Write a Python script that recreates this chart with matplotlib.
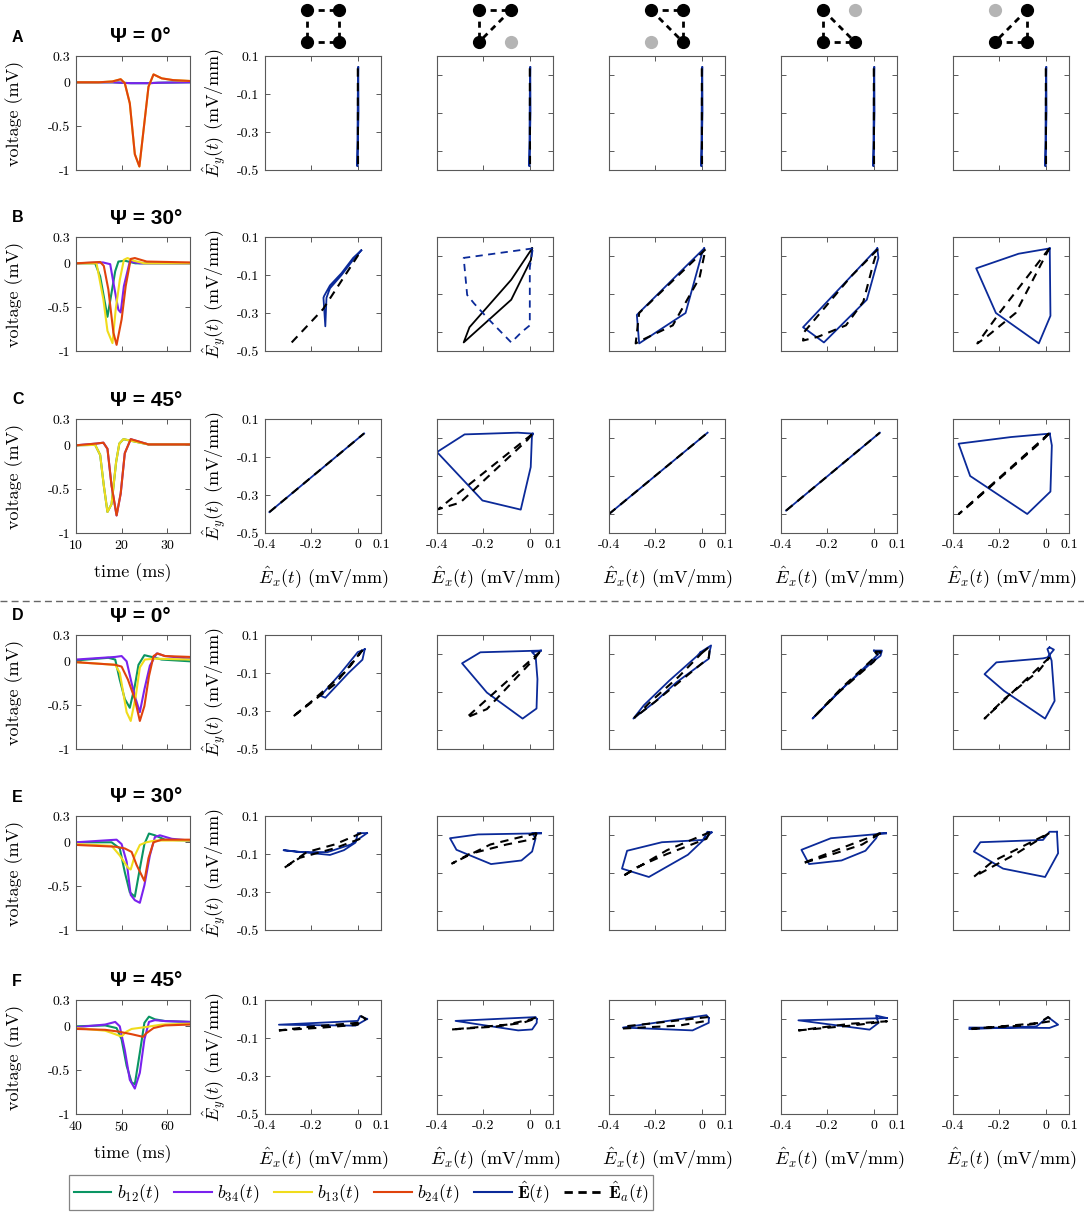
import matplotlib
matplotlib.use("Agg")
import matplotlib.pyplot as plt
from matplotlib.lines import Line2D

plt.rcParams['font.family'] = ['cmr10', 'DejaVu Sans']
plt.rcParams['mathtext.fontset'] = 'cm'
plt.rcParams['axes.unicode_minus'] = False
plt.rcParams['axes.formatter.use_mathtext'] = True

W, H = 1084, 1214

# ---------------- colours ----------------
C_B12 = '#0a9563'
C_B34 = '#7a22ee'
C_B13 = '#f0dc1c'
C_B24 = '#e0430c'
C_E = '#0b2a99'
C_EA = 'black'

# ---------------- data: bipolar traces (time ms, voltage mV) ----------------
row_titles = ['Ψ = 0°', 'Ψ = 30°', 'Ψ = 45°', 'Ψ = 0°', 'Ψ = 30°', 'Ψ = 45°']
row_letters = ['A', 'B', 'C', 'D', 'E', 'F']

# Row A
A_t_flat = [10, 18, 20, 22, 24, 26, 28, 35]
A_v_flat = [0.0, 0.0, -0.005, -0.01, -0.01, -0.01, -0.005, 0.0]
A_t_dip = [10, 15, 18, 19.8, 20.7, 21.8, 22.9, 23.9, 25.9, 27.0, 28.8, 31.3, 35]
A_v_dip = [0.0, 0.0, 0.01, 0.035, -0.01, -0.24, -0.82, -0.96, -0.05, 0.09, 0.045, 0.025, 0.015]
# Row B
B_t_b12 = [10, 14.2, 15.3, 16.9, 18.6, 19.3, 20.7, 23, 35]
B_v_b12 = [0, 0, -0.15, -0.61, -0.09, 0.02, 0.03, 0.0, 0.0]
B_t_b34 = [10, 15.9, 17.5, 18.2, 19.0, 19.3, 19.8, 20.5, 21.8, 24, 35]
B_v_b34 = [0, 0.01, -0.01, -0.22, -0.45, -0.53, -0.56, -0.26, 0.02, 0.0, 0.0]
B_t_b13 = [10, 14.5, 16.0, 16.9, 18.0, 18.7, 19.6, 20.5, 21.3, 22.6, 25, 35]
B_v_b13 = [0, 0, -0.41, -0.77, -0.91, -0.53, -0.19, 0.04, 0.06, 0.03, 0.0, 0.0]
B_t_b24 = [10, 15.3, 16.1, 17.1, 18.2, 18.9, 20.0, 20.9, 22.0, 22.9, 25.5, 35]
B_v_b24 = [0, 0.015, -0.03, -0.3, -0.79, -0.93, -0.64, -0.26, 0.05, 0.06, 0.02, 0.01]
# Row C
C_t_a = [10, 14.2, 15.3, 16.1, 16.9, 17.8, 18.8, 19.5, 20.4, 21.3, 25.9, 35]
C_v_a = [0, 0.005, -0.11, -0.46, -0.76, -0.67, -0.19, 0.02, 0.07, 0.06, 0.01, 0.01]
C_t_b = [10, 14.5, 16.0, 16.9, 17.8, 18.9, 19.8, 20.7, 22.0, 23.3, 25.9, 35]
C_v_b = [0, 0.02, 0.03, -0.04, -0.46, -0.8, -0.55, -0.09, 0.07, 0.05, 0.01, 0.01]
# Row D
D_t_b12 = [40, 47.1, 48.6, 49.6, 50.7, 51.8, 52.9, 53.7, 55.0, 56.6, 58.8, 65]
D_v_b12 = [0.01, 0.04, 0.02, -0.21, -0.43, -0.53, -0.28, -0.04, 0.07, 0.05, 0.02, 0.0]
D_t_b34 = [40, 48.6, 50.0, 51.1, 52.2, 53.1, 54.0, 55.0, 56.2, 57.7, 59.5, 65]
D_v_b34 = [0.02, 0.05, 0.06, 0.0, -0.25, -0.43, -0.58, -0.32, -0.05, 0.09, 0.06, 0.03]
D_t_b13 = [40, 48.6, 49.6, 51.1, 52.0, 53.1, 54.0, 55.1, 57.3, 65]
D_v_b13 = [-0.01, -0.04, -0.13, -0.58, -0.68, -0.4, -0.07, 0.02, 0.03, 0.02]
D_t_b24 = [40, 48.6, 50.0, 51.4, 52.9, 54.0, 55.0, 56.0, 57.0, 57.9, 59.5, 65]
D_v_b24 = [-0.01, -0.04, -0.06, -0.21, -0.43, -0.68, -0.51, -0.17, 0.06, 0.09, 0.06, 0.05]
# Row E
E_t_b12 = [40, 47.8, 49.6, 50.7, 51.8, 52.9, 54.0, 55.0, 56.0, 57.3, 59.5, 65]
E_v_b12 = [0, 0, -0.07, -0.34, -0.57, -0.62, -0.3, -0.02, 0.1, 0.08, 0.03, 0.02]
E_t_b34 = [40, 48.9, 50.0, 51.1, 52.0, 52.9, 54.0, 55.0, 56.2, 57.3, 58.4, 61, 65]
E_v_b34 = [0, 0.03, -0.02, -0.22, -0.6, -0.66, -0.69, -0.49, -0.15, 0.06, 0.08, 0.04, 0.02]
E_t_b13 = [40, 47.8, 49.6, 51.4, 52.0, 52.9, 54.0, 55.4, 57.3, 65]
E_v_b13 = [-0.02, -0.04, -0.15, -0.29, -0.31, -0.15, -0.03, 0.0, 0.02, 0.02]
E_t_b24 = [40, 48.6, 50.7, 52.2, 53.3, 55.0, 55.9, 57.0, 58.8, 65]
E_v_b24 = [-0.03, -0.05, -0.07, -0.11, -0.26, -0.44, -0.18, 0.0, 0.03, 0.03]
# Row F
F_t_b12 = [40, 46.4, 48.9, 50, 51.1, 52.2, 52.9, 54, 55, 56, 57.3, 59.5, 65]
F_v_b12 = [0, 0.01, -0.02, -0.15, -0.45, -0.64, -0.66, -0.3, 0.04, 0.11, 0.08, 0.06, 0.05]
F_t_b34 = [40, 46.4, 48.6, 49.6, 50.7, 51.8, 52.9, 54, 55, 56, 57.3, 59.5, 65]
F_v_b34 = [-0.01, 0.02, 0.05, 0.0, -0.27, -0.61, -0.71, -0.53, -0.15, 0.05, 0.07, 0.06, 0.05]
F_t_b13 = [40, 46.4, 48.6, 49.6, 50.1, 51.1, 52.2, 55.1, 58.8, 65]
F_v_b13 = [-0.02, -0.05, -0.09, -0.11, -0.11, -0.06, -0.03, -0.01, 0.02, 0.03]
F_t_b24 = [40, 46.4, 49.3, 52.2, 54.7, 55.4, 57, 59.5, 65]
F_v_b24 = [-0.03, -0.04, -0.06, -0.09, -0.12, -0.08, -0.02, 0.01, 0.02]

traces = [
    [(A_t_flat, A_v_flat), (A_t_flat, A_v_flat), (A_t_dip, A_v_dip), (A_t_dip, A_v_dip)],
    [(B_t_b12, B_v_b12), (B_t_b34, B_v_b34), (B_t_b13, B_v_b13), (B_t_b24, B_v_b24)],
    [(C_t_a, C_v_a), (C_t_b, C_v_b), (C_t_a, C_v_a), (C_t_b, C_v_b)],
    [(D_t_b12, D_v_b12), (D_t_b34, D_v_b34), (D_t_b13, D_v_b13), (D_t_b24, D_v_b24)],
    [(E_t_b12, E_v_b12), (E_t_b34, E_v_b34), (E_t_b13, E_v_b13), (E_t_b24, E_v_b24)],
    [(F_t_b12, F_v_b12), (F_t_b34, F_v_b34), (F_t_b13, F_v_b13), (F_t_b24, F_v_b24)],
]
trace_colors = [C_B12, C_B34, C_B13, C_B24]

time_ranges = [(10, 35), (10, 35), (10, 35), (40, 65), (40, 65), (40, 65)]
time_ticks = [[10, 20, 30]] * 3 + [[40, 50, 60]] * 3
volt_ticks = [0.3, 0, -0.5, -1]

# ---------------- data: loops (Ex, Ey) for E (solid) and Ea (dashed) ----------------
A_E = ([0.002, 0.0, -0.002, 0.003, 0.002], [0.04, -0.1, -0.48, -0.2, 0.04])
A_Ea = ([0.0, 0.001], [0.035, -0.475])

B1_E = ([0.015, -0.02, -0.07, -0.12, -0.145, -0.148, -0.14, -0.135, -0.12, -0.07, -0.02, 0.015],
        [0.03, -0.01, -0.09, -0.155, -0.21, -0.22, -0.37, -0.22, -0.17, -0.10, -0.02, 0.03])
B1_Ea = ([-0.285, -0.15, 0.01], [-0.455, -0.28, 0.02])
B2_E = ([0.01, -0.08, -0.26, -0.285, -0.08, 0.005, 0.01],
        [0.04, -0.125, -0.375, -0.455, -0.23, -0.02, 0.04])
B2_Ea = ([0.013, -0.285, -0.27, -0.24, -0.18, -0.08, -0.035, 0.0, 0.0, 0.013],
         [0.04, -0.01, -0.205, -0.25, -0.33, -0.455, -0.40, -0.365, -0.06, 0.04])
B3_E = ([0.01, -0.065, -0.28, -0.27, -0.07, 0.0, 0.01],
        [0.04, -0.05, -0.31, -0.46, -0.30, 0.01, 0.04])
B3_Ea = ([0.016, -0.27, -0.285, -0.245, -0.125, -0.01, 0.016],
         [0.035, -0.30, -0.46, -0.435, -0.365, -0.115, 0.035])
B4_E = ([0.015, 0.02, -0.03, -0.215, -0.305, 0.015],
        [0.04, -0.01, -0.23, -0.455, -0.375, 0.04])
B4_Ea = ([0.017, -0.1, -0.3, -0.305, -0.24, -0.12, -0.045, 0.0, 0.017],
         [0.035, -0.11, -0.40, -0.445, -0.425, -0.365, -0.24, -0.03, 0.035])
B5_E = ([0.017, -0.117, -0.30, -0.215, -0.03, 0.02, 0.017],
        [0.04, 0.012, -0.065, -0.30, -0.46, -0.315, 0.04])
B5_Ea = ([0.015, -0.2, -0.295, -0.26, -0.13, 0.015],
         [0.04, -0.3, -0.46, -0.43, -0.3, 0.04])

C1_E = ([-0.381, 0.027], [-0.39, 0.024])
C1_Ea = ([-0.381, 0.027], [-0.39, 0.024])
C2_E = ([0.013, -0.052, -0.281, -0.4, -0.204, -0.039, 0.004, 0.009, 0.013],
        [0.023, 0.028, 0.019, -0.074, -0.329, -0.377, -0.153, 0.005, 0.023])
C2_Ea = ([0.01, -0.395, -0.30, -0.01, 0.01], [0.02, -0.375, -0.34, -0.01, 0.02])
C3_E = ([-0.4, 0.025], [-0.4, 0.028])
C3_Ea = ([-0.4, 0.025], [-0.4, 0.028])
C4_E = ([-0.378, 0.026], [-0.382, 0.028])
C4_Ea = ([-0.378, 0.026], [-0.382, 0.028])
C5_E = ([0.017, -0.15, -0.376, -0.326, -0.08, 0.02, 0.026, 0.017],
        [0.023, 0.005, -0.03, -0.2, -0.4, -0.282, -0.039, 0.023])
C5_Ea = ([0.015, -0.375, -0.335, -0.02, 0.015], [0.025, -0.40, -0.36, -0.02, 0.025])

D1_E = ([0.03, 0.0, -0.08, -0.16, -0.14, -0.04, 0.02, 0.03],
        [0.025, 0.01, -0.11, -0.22, -0.23, -0.1, -0.03, 0.025])
D1_Ea = ([0.02, -0.1, -0.285, -0.2, -0.05, 0.02], [0.02, -0.16, -0.335, -0.25, -0.09, 0.02])
D2_E = ([0.048, -0.213, -0.292, -0.185, -0.031, 0.029, 0.033, 0.025, 0.01, 0.048],
        [0.018, 0.009, -0.049, -0.203, -0.34, -0.287, -0.132, -0.009, 0.009, 0.018])
D2_Ea = ([0.044, -0.273, -0.185, 0.025, 0.044], [0.012, -0.335, -0.29, -0.018, 0.012])
D3_E = ([-0.005, 0.04, 0.035, 0.03, -0.01, -0.11, -0.2, -0.295, -0.25, -0.14, -0.02, -0.005],
        [0.01, 0.045, 0.02, -0.025, -0.06, -0.15, -0.25, -0.34, -0.27, -0.14, -0.01, 0.01])
D3_Ea = ([0.0, 0.035, 0.03, -0.05, -0.2, -0.29, -0.22, -0.1, 0.0],
         [0.005, 0.04, -0.02, -0.1, -0.25, -0.335, -0.25, -0.12, 0.005])
D4_E = ([0.001, 0.035, 0.029, -0.008, -0.148, -0.264, -0.13, 0.02, 0.001],
        [0.018, 0.018, -0.009, -0.044, -0.194, -0.34, -0.176, 0.0, 0.018])
D4_Ea = ([0.005, 0.03, 0.0, -0.15, -0.26, -0.14, 0.015, 0.005],
         [0.012, 0.012, -0.04, -0.2, -0.335, -0.18, -0.005, 0.012])
D5_E = ([0.016, 0.035, 0.007, -0.012, -0.213, -0.264, -0.18, -0.003, 0.038, 0.025, 0.007, 0.016],
        [0.035, 0.023, -0.018, -0.023, -0.044, -0.106, -0.194, -0.34, -0.247, -0.035, 0.026, 0.035])
D5_Ea = ([0.016, -0.264, -0.18, -0.03, 0.016], [-0.018, -0.34, -0.238, -0.088, -0.018])

E1_E = ([0.04, 0.0, -0.01, -0.06, -0.12, -0.32, -0.25, -0.13, -0.03, 0.04],
        [0.01, 0.01, -0.04, -0.08, -0.105, -0.08, -0.09, -0.09, -0.05, 0.01])
E1_Ea = ([0.015, -0.1, -0.22, -0.32, -0.25, -0.1, 0.01, 0.015],
         [0.01, -0.05, -0.09, -0.175, -0.12, -0.07, -0.02, 0.01])
E2_E = ([0.048, -0.223, -0.344, -0.316, -0.167, -0.036, 0.01, 0.025, 0.01, 0.048],
        [0.009, 0.003, -0.017, -0.078, -0.153, -0.134, -0.087, -0.017, 0.009, 0.009])
E2_Ea = ([0.03, -0.17, -0.335, -0.26, -0.1, 0.02, 0.03], [0.01, -0.05, -0.15, -0.1, -0.05, -0.02, 0.01])
E3_E = ([0.042, -0.06, -0.228, -0.344, -0.322, -0.172, 0.005, 0.024, 0.042],
        [0.014, -0.104, -0.221, -0.177, -0.083, -0.038, -0.026, 0.017, 0.014])
E3_Ea = ([0.035, -0.15, -0.345, -0.28, -0.15, 0.02, 0.035], [0.015, -0.08, -0.22, -0.17, -0.1, -0.02, 0.015])
E4_E = ([0.053, -0.185, -0.312, -0.279, -0.139, -0.036, 0.01, 0.02, 0.053],
        [0.009, -0.017, -0.078, -0.153, -0.134, -0.083, -0.017, 0.009, 0.009])
E4_Ea = ([0.03, -0.12, -0.31, -0.2, -0.05, 0.03], [0.01, -0.06, -0.15, -0.11, -0.05, 0.01])
E5_E = ([0.048, 0.016, -0.012, -0.282, -0.31, -0.184, -0.003, 0.053, 0.048],
        [0.017, 0.017, -0.026, -0.038, -0.087, -0.177, -0.221, -0.096, 0.017])
E5_Ea = ([0.015, -0.13, -0.31, -0.23, -0.1, 0.015], [0.01, -0.1, -0.22, -0.14, -0.06, 0.01])

F1_E = ([0.04, 0.01, 0.0, -0.34, -0.01, 0.04], [0.0, 0.015, -0.01, -0.03, -0.035, 0.0])
F1_Ea = ([-0.34, -0.15, 0.0, 0.015, 0.035, 0.0, -0.2, -0.34],
         [-0.06, -0.045, -0.03, 0.015, 0.0, -0.02, -0.04, -0.06])
F2_E = ([0.03, 0.025, -0.32, -0.05, 0.01, 0.03, 0.03], [0.0, 0.01, -0.01, -0.06, -0.055, -0.02, 0.0])
F2_Ea = ([-0.335, -0.15, -0.03, 0.02, 0.03, 0.01, -0.1, -0.335],
         [-0.055, -0.04, -0.02, 0.0, 0.01, 0.0, -0.03, -0.055])
F3_E = ([0.03, 0.02, -0.34, -0.04, 0.03, 0.03], [0.005, 0.02, -0.045, -0.06, -0.02, 0.005])
F3_Ea = ([-0.34, -0.1, 0.02, 0.025, -0.34], [-0.05, -0.035, -0.01, 0.01, -0.04])
F4_E = ([0.057, -0.325, -0.018, 0.02, 0.01, 0.057], [0.005, -0.007, -0.056, -0.021, 0.018, 0.005])
F4_Ea = ([-0.325, -0.1, 0.057, -0.1, -0.325], [-0.06, -0.035, -0.012, -0.025, -0.06])
F5_E = ([-0.329, -0.04, 0.01, 0.053, 0.016, -0.329], [-0.053, -0.039, 0.01, -0.03, -0.047, -0.045])
F5_Ea = ([-0.32, -0.03, 0.01, 0.03, -0.1, -0.32], [-0.053, -0.021, 0.01, -0.01, -0.035, -0.05])

loops = [
    [(A_E, A_Ea)] * 5,
    [(B1_E, B1_Ea), (B2_E, B2_Ea), (B3_E, B3_Ea), (B4_E, B4_Ea), (B5_E, B5_Ea)],
    [(C1_E, C1_Ea), (C2_E, C2_Ea), (C3_E, C3_Ea), (C4_E, C4_Ea), (C5_E, C5_Ea)],
    [(D1_E, D1_Ea), (D2_E, D2_Ea), (D3_E, D3_Ea), (D4_E, D4_Ea), (D5_E, D5_Ea)],
    [(E1_E, E1_Ea), (E2_E, E2_Ea), (E3_E, E3_Ea), (E4_E, E4_Ea), (E5_E, E5_Ea)],
    [(F1_E, F1_Ea), (F2_E, F2_Ea), (F3_E, F3_Ea), (F4_E, F4_Ea), (F5_E, F5_Ea)],
]
# panel B, column 2 uses swapped styling (solid black, dashed navy)
swapped = {(1, 1)}

ex_ticks = [-0.4, -0.2, 0, 0.1]
ey_ticks_first = [0.1, -0.1, -0.3, -0.5]
ey_ticks_other = [0, -0.2, -0.4]

# electrode icons: nodes TL, TR, BL, BR ; active flags and dashed edges
icon_active = [[1, 1, 1, 1], [1, 1, 1, 0], [1, 1, 0, 1], [1, 0, 1, 1], [0, 1, 1, 1]]
icon_edges = [[(0, 1), (2, 3), (0, 2), (1, 3)],
              [(0, 1), (0, 2), (1, 2)],
              [(0, 1), (1, 3), (0, 3)],
              [(0, 2), (2, 3), (0, 3)],
              [(1, 3), (2, 3), (1, 2)]]

# ---------------- layout (pixels) ----------------
row_tops = [56, 237, 419, 635, 816, 1000]
ax_h = 114
volt_left, volt_w = 76, 114
loop_lefts = [265, 437, 609, 781, 953]
loop_w = 116

fig = plt.figure(figsize=(W / 100, H / 100), dpi=100)


def add_ax(left, top, w, h):
    return fig.add_axes([left / W, 1 - (top + h) / H, w / W, h / H])


ov = fig.add_axes([0, 0, 1, 1])
ov.set_xlim(0, W)
ov.set_ylim(H, 0)
ov.axis('off')

spine_col = '0.35'
tick_fs = 10


def style(ax):
    for s in ax.spines.values():
        s.set_color(spine_col)
        s.set_linewidth(0.8)
    ax.tick_params(direction='in', top=True, right=True, length=3.5, width=0.7,
                   color=spine_col, labelsize=tick_fs, pad=4)


for r in range(6):
    top = row_tops[r]
    ax = add_ax(volt_left, top, volt_w, ax_h)
    for (t, v), c in zip(traces[r], trace_colors):
        ax.plot(t, v, color=c, lw=1.5)
    ax.set_xlim(*time_ranges[r])
    ax.set_ylim(-1, 0.3)
    ax.set_xticks(time_ticks[r])
    ax.set_yticks(volt_ticks)
    ax.set_yticklabels(['0.3', '0', '-0.5', '-1'])
    style(ax)
    ax.set_ylabel('voltage (mV)', fontsize=13)
    ax.yaxis.set_label_coords(-0.46, 0.5)
    if r in (2, 5):
        ax.set_xlabel('time (ms)', fontsize=13)
        ax.xaxis.set_label_coords(0.5, -0.27)
    else:
        ax.set_xticklabels([])
    # title and letter
    ov.text(110, top - 19, row_titles[r], fontsize=15, fontweight='bold',
            family='Liberation Sans', ha='left', va='center')
    ov.text(12, top - 19, row_letters[r], fontsize=11.5, fontweight='bold',
            family='Liberation Sans', ha='left', va='center')

    for c in range(5):
        lax = add_ax(loop_lefts[c], top, loop_w, ax_h)
        (ex, ey), (eax, eay) = loops[r][c]
        if (r, c) in swapped:
            lax.plot(ex, ey, color='black', lw=1.3)
            lax.plot(eax, eay, color=C_E, lw=1.3, ls=(0, (4, 3)))
        else:
            lax.plot(ex, ey, color=C_E, lw=1.3)
            lax.plot(eax, eay, color=C_EA, lw=1.5, ls=(0, (4, 3)))
        lax.set_xlim(-0.4, 0.1)
        lax.set_ylim(-0.5, 0.1)
        lax.set_xticks(ex_ticks)
        if c == 0:
            lax.set_yticks(ey_ticks_first)
            lax.set_yticklabels(['0.1', '-0.1', '-0.3', '-0.5'])
            lax.set_ylabel(r'$\hat{E}_y(t)$ (mV/mm)', fontsize=13)
            lax.yaxis.set_label_coords(-0.32, 0.5)
        else:
            lax.set_yticks(ey_ticks_other)
            lax.set_yticklabels([])
        style(lax)
        if r in (2, 5):
            lax.set_xticklabels(['-0.4', '-0.2', '0', '0.1'])
            lax.set_xlabel(r'$\hat{E}_x(t)$ (mV/mm)', fontsize=13)
            lax.xaxis.set_label_coords(0.5, -0.27)
        else:
            lax.set_xticklabels([])

# icons above loop columns
node_dx = [-16, 16, -16, 16]
node_y = [10, 10, 42, 42]
for c in range(5):
    cx = loop_lefts[c] + loop_w / 2
    for (i, j) in icon_edges[c]:
        ov.plot([cx + node_dx[i], cx + node_dx[j]], [node_y[i], node_y[j]],
                color='black', lw=2.0, ls=(0, (2.2, 1.8)))
    for k in range(4):
        col = 'black' if icon_active[c][k] else '#b4b4b4'
        ov.plot(cx + node_dx[k], node_y[k], 'o', ms=8.5, color=col, mec=col, zorder=5)

# separator
ov.plot([0, W], [601, 601], color='0.4', lw=1.0, ls=(0, (5, 3)))

# legend
handles = [Line2D([], [], color=C_B12, lw=1.5),
           Line2D([], [], color=C_B34, lw=1.5),
           Line2D([], [], color=C_B13, lw=1.5),
           Line2D([], [], color=C_B24, lw=1.5),
           Line2D([], [], color=C_E, lw=1.5),
           Line2D([], [], color='black', lw=2, ls=(0, (3, 2)))]
labels = [r'$b_{12}(t)$', r'$b_{34}(t)$', r'$b_{13}(t)$', r'$b_{24}(t)$',
          r'$\mathbf{\hat{E}}(t)$', r'$\mathbf{\hat{E}}_a(t)$']
leg = fig.legend(handles, labels, loc='lower left', bbox_to_anchor=(69 / W, 1 - 1210 / H),
                 ncol=6, frameon=True, fancybox=False, edgecolor='0.4', fontsize=13,
                 handlelength=2.1, handletextpad=0.3, columnspacing=0.8,
                 borderpad=0.25, borderaxespad=0)
leg.get_frame().set_linewidth(0.9)

fig.savefig('out.png', dpi=100)
